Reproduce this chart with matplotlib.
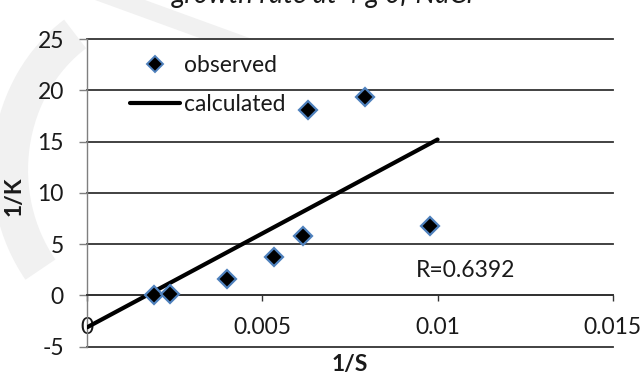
import matplotlib
matplotlib.use("Agg")
import matplotlib.pyplot as plt
from matplotlib.lines import Line2D
from matplotlib.patches import Arc, Polygon

# ---- data ----
obs_x = [0.00191, 0.00236, 0.00398, 0.00533, 0.00615, 0.00629, 0.00793, 0.00979]
obs_y = [0.05, 0.15, 1.6, 3.7, 5.75, 18.1, 19.3, 6.74]
calc_x = [0.0, 0.01]
calc_y = [-3.1, 15.2]
x_ticks = [0, 0.005, 0.01, 0.015]
x_tick_labels = ["0", "0.005", "0.01", "0.015"]
y_ticks = [-5, 0, 5, 10, 15, 20, 25]
title = "growth rate at 4 g of NaCl"
r_text = "R=0.6392"

plt.rcParams['font.family'] = ['Lato', 'DejaVu Sans']
plt.rcParams['axes.unicode_minus'] = False
FS = 16.5
TXT = '#1a1a1a'

W, H = 641, 374
fig = plt.figure(figsize=(W / 100, H / 100), dpi=100)

# faint watermark in the background
wm = '#f1f1f1'
fig.patches.append(Arc((160 / W, 1 - 170 / H), 300 / W, 330 / H, theta1=110, theta2=235,
                       transform=fig.transFigure, color=wm, lw=26, zorder=-5))
fig.patches.append(Polygon([(95 / W, 1 - 0 / H), (145 / W, 1 - 0 / H), (255 / W, 1 - 40 / H), (205 / W, 1 - 40 / H)],
                           closed=True, transform=fig.transFigure, color=wm, lw=0, zorder=-5))

ax = fig.add_axes([87.3 / W, 1 - 346.7 / H, (612.7 - 87.3) / W, (346.7 - 39) / H])
ax.set_facecolor('none')

grid_c = '#333333'
ax.set_xlim(0, 0.015)
ax.set_ylim(-5, 25)
ax.set_yticks(y_ticks)
ax.set_xticks(x_ticks)
ax.set_xticklabels(x_tick_labels)
ax.yaxis.grid(True, color=grid_c, lw=1.3, zorder=1)
for gl in ax.yaxis.get_gridlines():
    gl.set_clip_on(False)

for s in ['top', 'right']:
    ax.spines[s].set_visible(False)
ax.spines['left'].set_color('#7f7f7f')
ax.spines['left'].set_linewidth(1.0)
ax.spines['bottom'].set_position(('data', 0))
ax.spines['bottom'].set_color(grid_c)
ax.spines['bottom'].set_linewidth(1.3)

ax.tick_params(axis='y', direction='out', length=5.8, width=1.0, color='#7f7f7f',
               pad=11, labelsize=FS, labelcolor=TXT)
ax.tick_params(axis='x', direction='out', length=4.3, width=1.0, color=grid_c,
               pad=11, labelsize=FS, labelcolor=TXT)

ax.plot(calc_x, calc_y, color='black', lw=3.0, solid_capstyle='round', zorder=3, label='calculated')
ax.plot(obs_x, obs_y, linestyle='none', marker='D', markersize=9.5, markerfacecolor='black',
        markeredgecolor='#4f81bd', markeredgewidth=1.6, zorder=4, label='observed')

ax.text(0.00939, 2.4, r_text, fontsize=FS, color=TXT, va='center', ha='left', zorder=5)

ax.set_xlabel('1/S', fontsize=FS, fontweight='bold', color=TXT)
ax.xaxis.set_label_coords(0.5, -0.025)
ax.set_ylabel('1/K', fontsize=FS, fontweight='bold', color=TXT)
ax.yaxis.set_label_coords(-0.1186, 0.49)

handles = [Line2D([], [], linestyle='none', marker='D', markersize=8, markerfacecolor='black',
                  markeredgecolor='#4f81bd', markeredgewidth=1.4),
           Line2D([], [], color='black', lw=3.0, solid_capstyle='round')]
leg = ax.legend(handles, ['observed', 'calculated'], loc='upper left',
                bbox_to_anchor=((130 - 87.3) / 525.4, (346.7 - 55) / 307.7),
                frameon=False, fontsize=FS, handlelength=2.2, handletextpad=0.15,
                labelspacing=0.8, borderpad=0, borderaxespad=0)
for t in leg.get_texts():
    t.set_color(TXT)

fig.text(323 / W, 1 - 2.5 / H, title, ha='center', va='baseline', fontsize=20,
         style='italic', color=TXT)

fig.savefig('out.png', dpi=100)
